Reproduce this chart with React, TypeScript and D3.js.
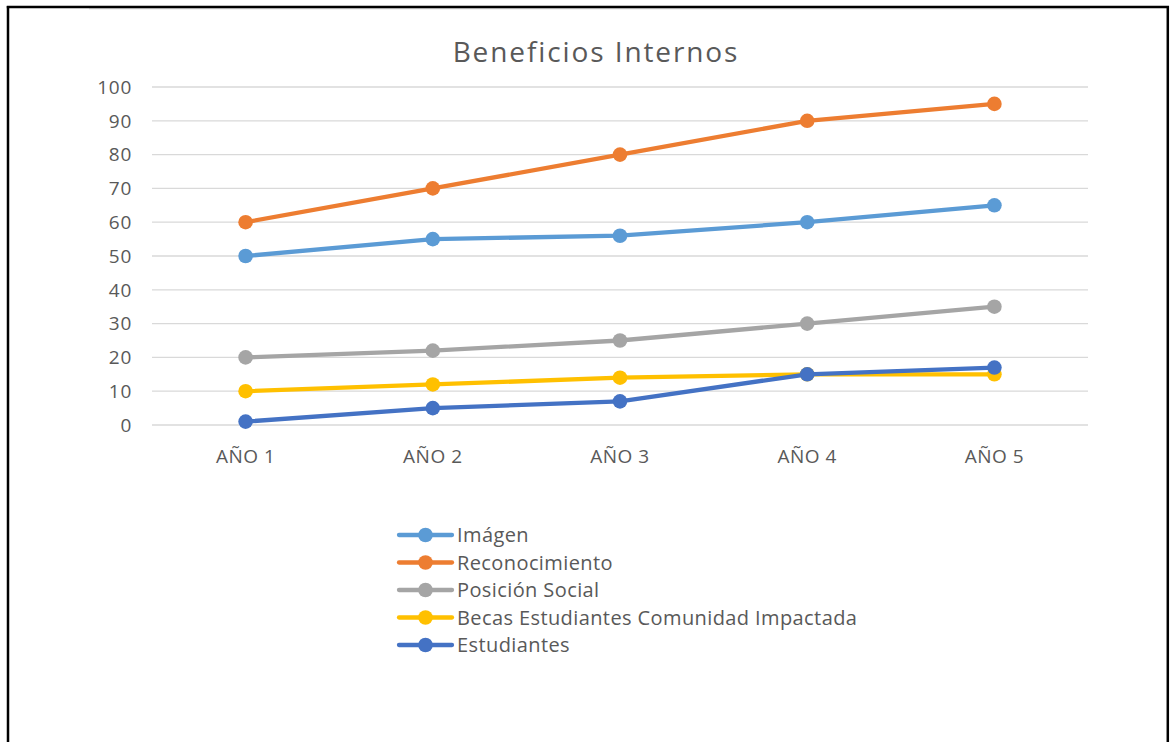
import React from "react";
import * as d3 from "d3";

const categories = ["AÑO 1", "AÑO 2", "AÑO 3", "AÑO 4", "AÑO 5"];
const seriesNames = ["Imágen", "Reconocimiento", "Posición Social", "Becas Estudiantes Comunidad Impactada", "Estudiantes"];
const imagen = [50, 55, 56, 60, 65];
const reconocimiento = [60, 70, 80, 90, 95];
const posicion = [20, 22, 25, 30, 35];
const becas = [10, 12, 14, 15, 15];
const estudiantes = [1, 5, 7, 15, 17];
const yTicks = [0, 10, 20, 30, 40, 50, 60, 70, 80, 90, 100];
const colors = ["#5B9BD5", "#ED7D31", "#A5A5A5", "#FFC000", "#4472C4"];

const FONT = "'Open Sans', Lato, sans-serif";

export default function App() {
  const data = [imagen, reconocimiento, posicion, becas, estudiantes];
  const x = d3.scaleBand<string>().domain(categories).range([152, 1088]);
  const y = d3.scaleLinear().domain([0, 100]).range([425, 87]);
  const cx = (c: string) => (x(c) as number) + x.bandwidth() / 2;
  const line = d3
    .line<number>()
    .x((_, i) => cx(categories[i]))
    .y((d) => y(d));

  return (
    <svg
      width={1170}
      height={742}
      style={{ position: "absolute", left: 0, top: 0, background: "#fff" }}
      fontFamily={FONT}
    >
      <rect x={0} y={0} width={1170} height={742} fill="#fff" />
      <line x1={89} x2={1090} y1={8.5} y2={8.5} stroke="#E3E3E3" strokeWidth={2} />
      <line x1={8} x2={8} y1={6} y2={742} stroke="#000" strokeWidth={2.5} />
      <line x1={6.8} x2={1169} y1={7} y2={7} stroke="#000" strokeWidth={2.5} />
      <line x1={1167.8} x2={1167.8} y1={6} y2={742} stroke="#000" strokeWidth={2.5} />

      <text x={596} y={62} textAnchor="middle" fontSize={28} letterSpacing={1.9} fill="#595959">
        Beneficios Internos
      </text>

      {yTicks.map((t) => (
        <g key={t}>
          <line x1={152} x2={1088} y1={y(t)} y2={y(t)} stroke="#D9D9D9" strokeWidth={1.3} />
          <text x={132} y={y(t)} dy="0.36em" textAnchor="end" fontSize={19} letterSpacing={0.7} fill="#595959">
            {t}
          </text>
        </g>
      ))}

      {categories.map((c) => (
        <text key={c} x={cx(c)} y={463} textAnchor="middle" fontSize={19} letterSpacing={0.5} fill="#595959">
          {c}
        </text>
      ))}

      {data.map((s, si) => (
        <g key={si}>
          <path d={line(s) || ""} fill="none" stroke={colors[si]} strokeWidth={4.3} strokeLinecap="round" strokeLinejoin="round" />
          {s.map((v, i) => (
            <circle key={i} cx={cx(categories[i])} cy={y(v)} r={7.3} fill={colors[si]} />
          ))}
        </g>
      ))}

      {seriesNames.map((n, i) => {
        const ly = 535 + i * 27.5;
        return (
          <g key={n}>
            <line x1={399} x2={452} y1={ly} y2={ly} stroke={colors[i]} strokeWidth={4.3} strokeLinecap="round" />
            <circle cx={425.5} cy={ly} r={7.3} fill={colors[i]} />
            <text x={457} y={ly} dy="0.36em" fontSize={20} letterSpacing={0.4} fill="#595959">
              {n}
            </text>
          </g>
        );
      })}
    </svg>
  );
}
